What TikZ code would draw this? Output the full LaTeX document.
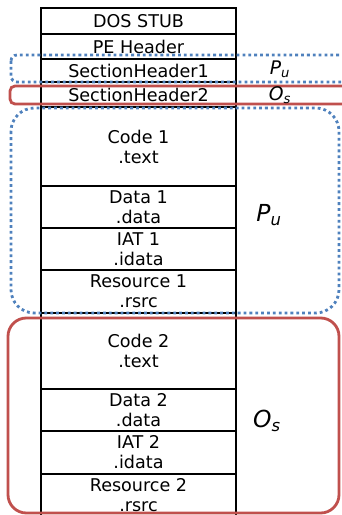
\documentclass[tikz,border=0pt]{standalone}
\usepackage{fontspec}
\setmainfont{DejaVu Sans}
\usepackage{xcolor}
\usepackage{tikz}
\usetikzlibrary{calc}
\usetikzlibrary{positioning}
\definecolor{puBlue}{RGB}{79,129,189}
\definecolor{osRed}{RGB}{192,80,77}
\tikzstyle{sec} = [draw = black, line width = 1.9pt, minimum width = 5.85cm, inner sep = 1pt, align = center, font = \fontsize{15}{17}\selectfont]
\tikzstyle{lbl} = [draw = none, inner sep = 1, font = \fontsize{16}{18}\selectfont\itshape]
\tikzstyle{biglbl} = [draw = none, inner sep = 1, font = \fontsize{20}{22}\selectfont\itshape]
\tikzstyle{pu} = [draw = puBlue, line width = 2.4pt, dash pattern = on 2.4pt off 2.6pt]
\tikzstyle{os} = [draw = osRed, line width = 2.4pt]

\begin{document}
\begin{tikzpicture}[x = 0.03cm, y = -0.03cm]
\useasboundingbox (0, 0) rectangle (341, 515);
% file layout
\node [sec, minimum height = 0.78cm] (dos) at (138.5, 21) {DOS STUB};
\node [sec, minimum height = 0.75cm] (pe) at (138.5, 46.5) {PE Header};
\node [sec, minimum height = 0.69cm] (sh1) at (138.5, 70.5) {SectionHeader1};
\node [sec, minimum height = 0.75cm] (sh2) at (138.5, 94.5) {SectionHeader2};
\node [sec, minimum height = 2.37cm] (code1) at (138.5, 146.5) {Code 1\\.text};
\node [sec, minimum height = 1.26cm] (data1) at (138.5, 207) {Data 1\\.data};
\node [sec, minimum height = 1.26cm] (iat1) at (138.5, 249) {IAT 1\\.idata};
\node [sec, minimum height = 1.29cm] (rsrc1) at (138.5, 291.5) {Resource 1\\.rsrc};
\node [sec, minimum height = 2.28cm] (code2) at (138.5, 351) {Code 2\\.text};
\node [sec, minimum height = 1.26cm] (data2) at (138.5, 410) {Data 2\\.data};
\node [sec, minimum height = 1.29cm] (iat2) at (138.5, 452.5) {IAT 2\\.idata};
\node [sec, minimum height = 1.29cm] (rsrc2) at (138.5, 495.5) {Resource 2\\.rsrc};
% regions
\draw [pu, rounded corners = 0.18cm] (11, 55) rectangle (360, 82);
\draw [os, rounded corners = 0.15cm] (10, 86) rectangle (360, 104);
\draw [pu, rounded corners = 0.7cm] (11, 108) rectangle (339, 313);
\draw [os, rounded corners = 0.55cm] (8, 318) rectangle (339, 513);
% labels
\node [lbl] (pu1) at (280, 69) {P\textsubscript{u}};
\node [lbl] (os1) at (280, 95) {O\textsubscript{s}};
\node [biglbl] (pu2) at (269, 215) {P\textsubscript{u}};
\node [biglbl] (os2) at (267, 421) {O\textsubscript{s}};
\end{tikzpicture}
\end{document}
